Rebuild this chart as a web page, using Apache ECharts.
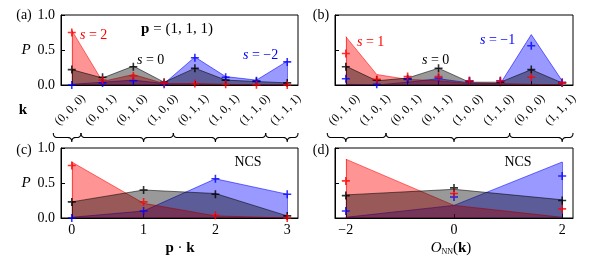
<!DOCTYPE html>
<html><head><meta charset="utf-8">
<script src="https://cdn.jsdelivr.net/npm/echarts@6/dist/echarts.min.js"></script>
<style>html,body{margin:0;padding:0;background:#fff}#c{width:593px;height:265px}</style>
</head><body><div id="c"></div>
<script>
// ---------- data ----------
const kLabelsA = ['(0, 0, 0)','(0, 0, 1)','(0, 1, 0)','(1, 0, 0)','(0, 1, 1)','(1, 0, 1)','(1, 1, 0)','(1, 1, 1)'];
const kLabelsB = ['(0, 1, 0)','(1, 0, 1)','(0, 0, 1)','(0, 1, 1)','(1, 0, 0)','(1, 1, 0)','(0, 0, 0)','(1, 1, 1)'];
const pkOfA  = [0, 1, 1, 1, 2, 2, 2, 3];      // p·k of each k in panel (a)
const onnOfB = [-2, -2, 0, 0, 0, 0, 2, 2];    // O_NN(k) of each k in panel (b)
const pkValues  = [0, 1, 2, 3];
const onnValues = [-2, 0, 2];

// panel (a), p = (1,1,1)
const redAreaA   = [0.78, 0.05, 0.15, 0.02, 0.02, 0.01, 0.00, 0.00];
const redMarkA   = [0.75, 0.07, 0.13, 0.03, 0.02, 0.01, 0.005, 0.00];
const blackAreaA = [0.22, 0.10, 0.27, 0.04, 0.24, 0.07, 0.05, 0.03];
const blackMarkA = [0.22, 0.11, 0.26, 0.04, 0.24, 0.07, 0.05, 0.03];
const blueAreaA  = [0.01, 0.04, 0.07, 0.02, 0.40, 0.12, 0.07, 0.34];
const blueMarkA  = [0.00, 0.03, 0.06, 0.01, 0.39, 0.11, 0.06, 0.33];
// panel (b)
const redAreaB   = [0.69, 0.15, 0.08, 0.06, 0.02, 0.02, 0.01, 0.00];
const redMarkB   = [0.45, 0.08, 0.12, 0.12, 0.06, 0.06, 0.11, 0.03];
const blackAreaB = [0.27, 0.06, 0.10, 0.24, 0.04, 0.04, 0.22, 0.03];
const blackMarkB = [0.26, 0.07, 0.09, 0.24, 0.05, 0.04, 0.22, 0.03];
const blueAreaB  = [0.01, 0.00, 0.04, 0.09, 0.03, 0.02, 0.72, 0.06];
const blueMarkB  = [0.09, 0.01, 0.08, 0.10, 0.06, 0.06, 0.56, 0.04];
// panel (c), NCS vs p·k
const redAreaC   = [0.80, 0.21, 0.03, 0.00];
const redMarkC   = [0.75, 0.23, 0.04, 0.00];
const blackAreaC = [0.23, 0.40, 0.35, 0.03];
const blackMarkC = [0.23, 0.40, 0.34, 0.03];
const blueAreaC  = [0.01, 0.10, 0.56, 0.34];
const blueMarkC  = [0.00, 0.10, 0.56, 0.34];
// panel (d), NCS vs O_NN
const redAreaD   = [0.84, 0.18, 0.01];
const redMarkD   = [0.53, 0.35, 0.13];
const blackAreaD = [0.33, 0.41, 0.26];
const blackMarkD = [0.32, 0.43, 0.25];
const blueAreaD  = [0.01, 0.18, 0.80];
const blueMarkD  = [0.10, 0.30, 0.60];

const yTickValues = [0, 0.5, 1];

// ---------- style ----------
const FONT = '"Liberation Serif","DejaVu Serif",serif';
const RED = '#ff0000', BLK = '#000000', BLU = '#0000ff';
const PLUS = 'path://M4,0H6V4H10V6H6V10H4V6H0V4H4Z';
const idx8 = kLabelsA.map((_, i) => i);
const pairs = (xs, ys) => ys.map((y, i) => [xs[i], y]);

function areaS(g, xs, ys, color, op, z) {
  const n = xs.length - 1;
  return { type: 'line', xAxisIndex: g, yAxisIndex: g, data: pairs(xs, ys), symbol: 'none', showSymbol: false,
    silent: true, z: z, animation: false,
    lineStyle: { color: color, width: 1, opacity: 0.55 },
    areaStyle: { color: color, opacity: op },
    markLine: { silent: true, symbol: 'none', animation: false, label: { show: false },
      lineStyle: { color: color, width: 1, opacity: 0.55, type: 'solid' },
      data: [
        [{ coord: [xs[0], 0] }, { coord: [xs[0], ys[0]] }],
        [{ coord: [xs[n], 0] }, { coord: [xs[n], ys[n]] }]
      ] } };
}
function markS(g, xs, ys, color, z) {
  return { type: 'scatter', xAxisIndex: g, yAxisIndex: g, data: pairs(xs, ys), symbol: PLUS, symbolSize: 8,
    itemStyle: { color: color }, silent: true, z: z, animation: false };
}
function panel(g, xs, rA, rM, kA, kM, bA, bM) {
  return [areaS(g, xs, bA, BLU, 0.4, 2), areaS(g, xs, rA, RED, 0.42, 3), areaS(g, xs, kA, BLK, 0.4, 4),
          markS(g, xs, kM, BLK, 10), markS(g, xs, bM, BLU, 11), markS(g, xs, rM, RED, 12)];
}
function xAx(g, min, max, ticks, showLabels) {
  return { type: 'value', gridIndex: g, min: min, max: max,
    axisLine: { show: true, onZero: false, lineStyle: { color: '#000', width: 1 } },
    axisTick: { show: true, inside: true, length: 4, customValues: ticks, lineStyle: { color: '#000', width: 1 } },
    axisLabel: { show: showLabels, customValues: ticks, margin: 5, fontFamily: FONT, fontSize: 14, color: '#000',
      formatter: v => String(v).replace('-', '\u2212') },
    splitLine: { show: false } };
}
function yAx(g, showLabels) {
  return { type: 'value', gridIndex: g, min: 0, max: 1, interval: 0.5,
    axisLine: { show: true, onZero: false, lineStyle: { color: '#000', width: 1 } },
    axisTick: { show: true, inside: true, length: 4, customValues: yTickValues, lineStyle: { color: '#000', width: 1 } },
    axisLabel: { show: showLabels, customValues: yTickValues, margin: 6, fontFamily: FONT, fontSize: 14, color: '#000',
      formatter: v => v.toFixed(1) },
    splitLine: { show: false } };
}
const gridBase = { show: true, borderColor: '#000', borderWidth: 1, backgroundColor: 'transparent', containLabel: false };

const chart = echarts.init(document.getElementById('c'), null, { renderer: 'canvas' });
chart.setOption({
  animation: false,
  backgroundColor: '#ffffff',
  grid: [
    Object.assign({ left: 61, top: 15, width: 237, height: 70 }, gridBase),
    Object.assign({ left: 335, top: 15, width: 238, height: 70 }, gridBase),
    Object.assign({ left: 61, top: 148, width: 237, height: 70 }, gridBase),
    Object.assign({ left: 335, top: 148, width: 238, height: 70 }, gridBase)
  ],
  xAxis: [
    xAx(0, -0.35, 7.35, idx8, false),
    xAx(1, -0.35, 7.35, idx8, false),
    xAx(2, -0.15, 3.15, pkValues, true),
    xAx(3, -2.2, 2.2, onnValues, true)
  ],
  yAxis: [yAx(0, true), yAx(1, false), yAx(2, true), yAx(3, false)],
  series: [].concat(
    panel(0, idx8, redAreaA, redMarkA, blackAreaA, blackMarkA, blueAreaA, blueMarkA),
    panel(1, idx8, redAreaB, redMarkB, blackAreaB, blackMarkB, blueAreaB, blueMarkB),
    panel(2, pkValues, redAreaC, redMarkC, blackAreaC, blackMarkC, blueAreaC, blueMarkC),
    panel(3, onnValues, redAreaD, redMarkD, blackAreaD, blackMarkD, blueAreaD, blueMarkD)
  )
});

// ---------- annotations ----------
function T(x, y, text, o) {
  o = o || {};
  const size = o.size || 14;
  const fill = o.fill || '#000';
  const rich = {
    i: { fontFamily: FONT, fontSize: size, fontStyle: 'italic', fill: fill },
    b: { fontFamily: FONT, fontSize: size, fontWeight: 'bold', fill: fill },
    n: { fontFamily: FONT, fontSize: size, fill: fill },
    s: { fontFamily: FONT, fontSize: 8, fill: fill, verticalAlign: 'bottom', padding: [6, 0, 0, 0] }
  };
  return { type: 'text', x: x, y: y, rotation: o.rot || 0, z: 100, silent: true,
    style: { text: text, fill: fill, fontFamily: FONT, fontSize: size, fontStyle: o.italic ? 'italic' : 'normal',
      fontWeight: o.bold ? 'bold' : 'normal', align: o.align || 'center', verticalAlign: 'middle', rich: rich } };
}
const px = (ax, v) => chart.convertToPixel({ xAxisIndex: ax }, v);

function quad(p0, p1, p2, n, out) {
  for (let t = 1; t <= n; t++) {
    const u = t / n, a = (1 - u) * (1 - u), b = 2 * (1 - u) * u, c = u * u;
    out.push([a * p0[0] + b * p1[0] + c * p2[0], a * p0[1] + b * p1[1] + c * p2[1]]);
  }
}
function brace(x1, x2, xt) {
  const y0 = 133, ym = 137.5, yt = 142, r = 4;
  const pts = [[x1, y0]];
  quad([x1, y0], [x1, ym], [x1 + r, ym], 6, pts);
  pts.push([xt - r, ym]);
  quad([xt - r, ym], [xt, ym], [xt, yt], 6, pts);
  quad([xt, yt], [xt, ym], [xt + r, ym], 6, pts);
  pts.push([x2 - r, ym]);
  quad([x2 - r, ym], [x2, ym], [x2, y0], 6, pts);
  return { type: 'polyline', shape: { points: pts }, style: { stroke: '#000', lineWidth: 1.1, fill: null }, silent: true, z: 100 };
}
function bracesFor(groupOf, axTop, axBottom, maxTop) {
  const out = [];
  const vals = [...new Set(groupOf)];
  vals.forEach((v, gi) => {
    const idx = groupOf.map((g, i) => g === v ? i : -1).filter(i => i >= 0);
    const lo = gi === 0 ? idx[0] - 0.6 : idx[0] - 0.7;
    const hi = gi === vals.length - 1 ? maxTop : idx[idx.length - 1] + 0.3;
    out.push(brace(px(axTop, lo), px(axTop, hi), px(axBottom, v)));
  });
  return out;
}

const g = [];
// panel letters
g.push(T(24, 15, '(a)'), T(321, 15, '(b)'), T(24, 150, '(c)'), T(321, 150, '(d)'));
// P labels
g.push(T(26, 50, 'P', { italic: true, size: 15 }), T(26, 183, 'P', { italic: true, size: 15 }));
// k label
g.push(T(23, 110, 'k', { bold: true, size: 15 }));
// rotated k labels
kLabelsA.forEach((s, i) => g.push(T(px(0, i) - 1.5, 110, s, { size: 12, rot: Math.PI / 4 })));
kLabelsB.forEach((s, i) => g.push(T(px(1, i) - 1.5, 110, s, { size: 12, rot: Math.PI / 4 })));
// braces
bracesFor(pkOfA, 0, 2, 7.35).forEach(b => g.push(b));
bracesFor(onnOfB, 1, 3, 7.35).forEach(b => g.push(b));
// in-panel texts
g.push(T(177, 29, '{b|p} = (1, 1, 1)', { size: 15 }));
g.push(T(80, 35, '{i|s} = 2', { fill: RED, align: 'left' }));
g.push(T(137, 60, '{i|s} = 0', { align: 'left' }));
g.push(T(243, 55, '{i|s} = \u22122', { fill: BLU, align: 'left' }));
g.push(T(357, 42, '{i|s} = 1', { fill: RED, align: 'left' }));
g.push(T(422, 60, '{i|s} = 0', { align: 'left' }));
g.push(T(480, 40, '{i|s} = \u22121', { fill: BLU, align: 'left' }));
g.push(T(248, 162, 'NCS'));
g.push(T(518, 162, 'NCS'));
// axis titles
g.push(T(180, 248, '{b|p} \u00b7 {b|k}', { size: 15 }));
g.push(T(451, 248, '{i|O}{s|NN}({b|k})', { size: 15 }));

chart.setOption({ graphic: g });
</script></body></html>
